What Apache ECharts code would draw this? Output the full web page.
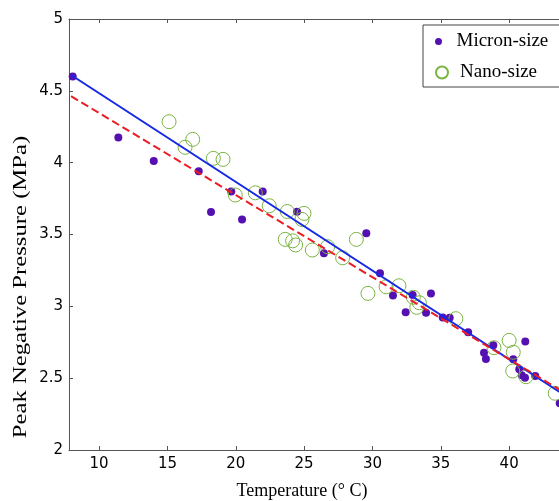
<!DOCTYPE html>
<html><head><meta charset="utf-8">
<script src="https://cdn.jsdelivr.net/npm/echarts@6/dist/echarts.min.js"></script>
<style>html,body{margin:0;padding:0;background:#fff}#c{width:559px;height:501px}</style>
</head><body><div id="c"></div>
<script>
// Data
const micronSize = [[8.07,4.60],[11.41,4.176],[14.0,4.011],[17.29,3.94],[18.19,3.656],[19.67,3.80],[20.46,3.605],[21.97,3.80],[24.48,3.658],[26.45,3.369],[29.55,3.508],[30.55,3.23],[31.5,3.076],[32.43,2.958],[32.94,3.079],[33.92,2.955],[34.28,3.09],[35.14,2.923],[35.65,2.921],[37.0,2.82],[38.16,2.677],[38.3,2.633],[38.84,2.729],[40.3,2.631],[40.74,2.562],[40.92,2.52],[41.16,2.503],[41.18,2.756],[41.91,2.515],[43.7,2.325]];
const nanoSize = [[15.12,4.285],[16.29,4.107],[16.85,4.162],[18.36,4.03],[19.07,4.023],[19.96,3.775],[21.43,3.79],[22.45,3.70],[23.62,3.466],[23.77,3.66],[24.16,3.456],[24.38,3.427],[24.84,3.605],[24.99,3.647],[25.6,3.392],[26.72,3.415],[27.82,3.338],[28.82,3.466],[29.67,3.09],[31.0,3.136],[31.94,3.143],[32.99,3.063],[33.24,2.993],[33.43,3.025],[36.1,2.914],[38.89,2.712],[40.0,2.763],[40.26,2.55],[40.3,2.68],[41.23,2.51],[43.37,2.395]];
const micronFit = [[7.95,4.61],[43.7,2.403]];
const nanoFit = [[7.95,4.463],[43.7,2.42]];
const xTicks = [10,15,20,25,30,35,40,45];
const seriesNames = ['Micron-size','Nano-size'];

const chart = echarts.init(document.getElementById('c'));
const axisLineStyle = {color:'#555', width:1};
chart.setOption({
  animation:false,
  grid:{left:69, top:19, width:508.5, height:431, containLabel:false, outerBoundsMode:'none'},
  xAxis:[{
    type:'value', min:7.8, max:45, position:'bottom',
    axisLine:{show:true, lineStyle:axisLineStyle},
    axisTick:{show:true, inside:true, length:4, customValues:xTicks, lineStyle:axisLineStyle},
    axisLabel:{customValues:xTicks, color:'#000', fontFamily:'DejaVu Sans', fontSize:15, margin:7},
    splitLine:{show:false}
  },{
    type:'value', min:7.8, max:45, position:'top',
    axisLine:{show:true, lineStyle:axisLineStyle},
    axisTick:{show:true, inside:true, length:4, customValues:xTicks, lineStyle:axisLineStyle},
    axisLabel:{show:false}, splitLine:{show:false}
  }],
  yAxis:{
    type:'value', min:2, max:5, interval:0.5,
    axisLine:{show:true, lineStyle:axisLineStyle},
    axisTick:{show:true, inside:true, length:4, lineStyle:axisLineStyle},
    axisLabel:{color:'#000', fontFamily:'DejaVu Sans', fontSize:15, margin:6},
    splitLine:{show:false}
  },
  legend:[{
    data:[seriesNames[0]], left:435, top:32, padding:0, itemWidth:26, itemHeight:7,
    textStyle:{fontFamily:'Liberation Serif', fontSize:19, color:'#000'}
  },{
    data:[seriesNames[1]], left:435, top:63, padding:0, itemWidth:26, itemHeight:12,
    textStyle:{fontFamily:'Liberation Serif', fontSize:19, color:'#000'}
  }],
  graphic:[
    {type:'rect', x:423, y:25, shape:{width:160, height:62}, style:{fill:null, stroke:'#444', lineWidth:1}, z:5},
    {type:'text', x:302, y:482, style:{text:'Temperature (\u00b0 C)', font:'18px "Liberation Serif"', fill:'#000', textAlign:'center'}},
    {type:'text', rotation:Math.PI/2, scaleX:1.3, x:12, y:287, style:{text:'Peak Negative Pressure (MPa)', font:'19px "Liberation Serif"', fill:'#000', textAlign:'center', textVerticalAlign:'top'}}
  ],
  series:[
    {name:seriesNames[0], type:'scatter', data:micronSize, symbol:'circle', symbolSize:8,
     itemStyle:{color:'#5410b0', opacity:1}, z:2},
    {name:seriesNames[1], type:'scatter', data:nanoSize, symbol:'circle', symbolSize:14,
     itemStyle:{color:'rgba(0,0,0,0)', borderColor:'#7cb342', borderWidth:1, opacity:1}, z:2},
    {type:'line', data:micronFit, symbol:'none', lineStyle:{color:'#1428e6', width:2}, z:3, silent:true},
    {type:'line', data:nanoFit, symbol:'none', lineStyle:{color:'#ec1c24', width:2, type:[8,4]}, z:3, silent:true}
  ]
});
</script></body></html>
